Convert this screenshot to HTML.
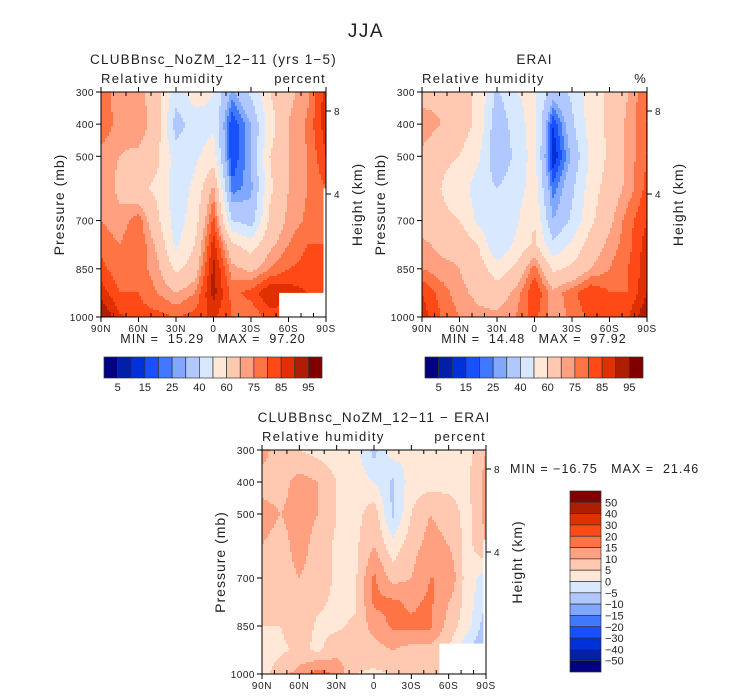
<!DOCTYPE html>
<html><head><meta charset="utf-8">
<style>
html,body{margin:0;padding:0;background:#fff;}
svg{display:block;font-family:"Liberation Sans",sans-serif;}
text{fill:#222;white-space:pre;}
</style></head>
<body>
<svg id="root" width="733" height="699" viewBox="0 0 733 699" xmlns="http://www.w3.org/2000/svg">
<text x="366" y="37" font-size="19" letter-spacing="1.5" text-anchor="middle">JJA</text>
<g id="p1"></g>
<g id="p2"></g>
<g id="p3"></g>
<g id="cb"></g>
</svg>
<script>
// ---- data ----
const lats = [90,75,60,45,30,15,0,-15,-30,-45,-60,-75,-90];
const pressures = [1000,925,850,775,700,600,500,400,300];
const rhLevels = [5,10,15,20,25,30,40,50,60,70,75,80,85,90,95];
const rhLabels = ["5","15","25","40","60","75","85","95"];
const diffLevels = [-50,-40,-30,-20,-15,-10,-5,0,5,10,15,20,30,40,50];
const diffLabels = ["50","40","30","20","15","10","5","0","\u22125","\u221210","\u221215","\u221220","\u221230","\u221240","\u221250"];
const palette = ["#000080","#0020a8","#0030d8","#1850ff","#4078ff","#80a8ff","#b0c8ff","#d8e8ff","#ffe8d8","#ffc8b0","#ffa080","#ff7444","#ff4a18","#e03000","#b01e00","#800000"];
const xTickLabels = ["90N","60N","30N","0","30S","60S","90S"];
const pTickLabels = [300,400,500,700,850,1000];
// rows: 1000,925,850,775,700,600,500,400,300
const modelRH = [
 [96,86,82,82,80,82,86,80,76,82,82,82,82],
 [88,80,80,75,70,75,92,78,82,90,88,85,85],
 [82,76,78,72,58,65,92,72,68,75,80,82,82],
 [78,75,80,68,48,60,88,62,55,68,75,80,80],
 [75,72,78,62,45,55,82,40,35,62,72,76,80],
 [75,68,62,58,45,52,72,22,28,58,70,75,80],
 [72,70,68,62,45,48,55,15,30,60,70,75,85],
 [80,72,75,65,35,45,48,15,30,55,70,76,88],
 [78,72,72,65,45,55,50,28,42,60,68,73,88]
];
const eraiRH = [
 [88,80,75,72,72,75,82,72,76,82,80,85,95],
 [85,78,72,68,65,72,85,72,78,85,80,80,90],
 [75,72,70,65,55,62,78,58,62,70,75,80,88],
 [72,68,68,60,40,52,62,42,52,65,72,78,88],
 [65,62,60,48,40,48,60,30,42,58,68,78,85],
 [65,60,55,45,40,45,55,22,38,55,65,72,82],
 [68,62,60,52,32,42,55,10,32,52,62,72,80],
 [75,70,65,58,32,45,55,15,38,55,62,72,80],
 [65,68,65,58,38,50,52,35,42,55,62,70,80]
];
const diffRH = [
 [3,8,12,18,14,5,4,5,8,10,5,3,0],
 [2,4,6,4,8,8,8,10,8,8,5,-5,-10],
 [5,5,8,4,4,6,12,16,16,16,8,2,-8],
 [8,8,10,6,4,4,16,16,14,16,10,3,-5],
 [8,8,10,8,4,4,16,8,10,15,15,2,-2],
 [10,8,12,8,4,4,10,2,8,12,10,3,10],
 [12,10,12,10,5,3,8,-6,5,10,8,3,12],
 [8,8,12,10,5,3,0,-6,3,3,3,4,12],
 [12,7,5,3,2,2,-7,3,0,2,3,3,10]
];
// ---- helpers ----
const NS="http://www.w3.org/2000/svg";
function mk(tag,attrs,parent){const e=document.createElementNS(NS,tag);for(const k in attrs)e.setAttribute(k,attrs[k]);parent.appendChild(e);return e;}
function levelIndex(v,levels){let i=0;while(i<levels.length&&v>=levels[i])i++;return i;}
function sample(grid,lat,p){
  let ci=0;while(ci<lats.length-2&&lat<lats[ci+1])ci++;
  const tx=(lats[ci]-lat)/(lats[ci]-lats[ci+1]);
  let ri=0;while(ri<pressures.length-2&&p<pressures[ri+1])ri++;
  const ty=(pressures[ri]-p)/(pressures[ri]-pressures[ri+1]);
  const a=grid[ri][ci],b=grid[ri][ci+1],c=grid[ri+1][ci],d=grid[ri+1][ci+1];
  return a*(1-tx)*(1-ty)+b*tx*(1-ty)+c*(1-tx)*ty+d*tx*ty;
}
function panel(g,x0,y0,w,h,grid,levels,opt){
  const xs=lat=>x0+(90-lat)/180*w;
  const ys=p=>y0+h-(1000-p)/700*h;
  const cs=2;
  const field=mk('g',{},g);
  
  
  for(let px=0;px<w;px+=cs){
    for(let py=0;py<h;py+=cs){
      const lat=90-(px+cs/2)/w*180;
      const p=1000-(h-(py+cs/2))/h*700;
      const v=sample(grid,lat,p);
      const r=mk('rect',{x:x0+px,y:y0+py,width:Math.min(cs,w-px)+0.3,height:Math.min(cs,h-py)+0.3,fill:palette[levelIndex(v,levels)]},field);
      
      
    }
  }
  (opt.masks||[]).forEach(m=>{
    const r=mk('rect',{x:xs(m[0]),y:ys(m[1]),width:xs(-90)-xs(m[0])+1,height:ys(1000)-ys(m[1])+1,fill:'#fff'},g);
    
    
  });
  const fr=mk('rect',{x:x0,y:y0,width:w,height:h,fill:'none',stroke:'#000','stroke-width':1},g);
  
  
  for(let lat=90;lat>=-90;lat-=10){
    const x=xs(lat);
    const major=lat%30===0;
    mk('line',{x1:x,y1:y0+h,x2:x,y2:y0+h+(major?5:-4),stroke:'#000'},g);
    mk('line',{x1:x,y1:y0,x2:x,y2:y0+(major?-5:4),stroke:'#000'},g);
  }
  xTickLabels.forEach((t,i)=>{
    const tx=mk('text',{x:xs(90-30*i),y:y0+h+15,'font-size':10,'letter-spacing':0.6,'text-anchor':'middle'},g);
    tx.textContent=t;
    
    
  });
  pTickLabels.forEach(p=>{
    const y=ys(p);
    mk('line',{x1:x0-5,y1:y,x2:x0,y2:y,stroke:'#000'},g);
    const tx=mk('text',{x:x0-7,y:y+4,'font-size':10,'letter-spacing':0.5,'text-anchor':'end'},g);
    tx.textContent=p;
    
    
  });
  [[8,111-92],[4,194-92]].forEach(k=>{
    const y=y0+k[1];
    mk('line',{x1:x0+w,y1:y,x2:x0+w+5,y2:y,stroke:'#000'},g);
    const tx=mk('text',{x:x0+w+8,y:y+4,'font-size':10},g);
    tx.textContent=k[0];
    
    
  });
  const yl=mk('text',{x:0,y:0,'font-size':14,'letter-spacing':1,'text-anchor':'middle',transform:`translate(${x0-37},${y0+h/2}) rotate(-90)`},g);
  yl.textContent='Pressure (mb)';
  
  
  const yr=mk('text',{x:0,y:0,'font-size':14,'letter-spacing':1,'text-anchor':'middle',transform:`translate(${x0+w+36},${y0+h/2}) rotate(-90)`},g);
  yr.textContent='Height (km)';
  
  
  const t1=mk('text',{x:x0+w/2,y:y0-28,'font-size':13.5,'letter-spacing':1.2,'text-anchor':'middle'},g);
  t1.textContent=opt.title;
  
  
  const t2=mk('text',{x:x0,y:y0-9,'font-size':13,'letter-spacing':1.4},g);
  t2.textContent='Relative humidity';
  
  
  const t3=mk('text',{x:x0+w,y:y0-9,'font-size':13,'letter-spacing':1.2,'text-anchor':'end'},g);
  t3.textContent=opt.units;
  
  
}
function hbar(g,x0,y0,w,h){
  const bw=w/palette.length;
  palette.forEach((c,i)=>{
    const r=mk('rect',{x:x0+i*bw,y:y0,width:bw,height:h,fill:c,stroke:'#333','stroke-width':0.7},g);
    
    
  });
  rhLabels.forEach((t,i)=>{
    const tx=mk('text',{x:x0+(2*i+1)*bw,y:y0+h+13,'font-size':11,'text-anchor':'middle'},g);
    tx.textContent=t;
    
    
  });
}
function vbar(g,x0,y0,w,h){
  const bh=h/palette.length;
  palette.slice().reverse().forEach((c,i)=>{
    const r=mk('rect',{x:x0,y:y0+i*bh,width:w,height:bh,fill:c,stroke:'#333','stroke-width':0.7},g);
    
    
  });
  diffLabels.forEach((t,i)=>{
    const tx=mk('text',{x:x0+w+4,y:y0+(i+1)*bh+4,'font-size':11},g);
    tx.textContent=t;
    
    
  });
}
const p1=document.getElementById('p1'),p2=document.getElementById('p2'),p3=document.getElementById('p3'),cb=document.getElementById('cb');
panel(p1,101,92,225,225,modelRH,rhLevels,{title:'CLUBBnsc_NoZM_12\u221211 (yrs 1\u22125)',units:'percent',masks:[[-52.5,925],[-88,600]]});
panel(p2,422,92,225,225,eraiRH,rhLevels,{title:'ERAI',units:'%',masks:[]});
panel(p3,262,450,224,224,diffRH,diffLevels,{title:'CLUBBnsc_NoZM_12\u221211 \u2212 ERAI',units:'percent',masks:[[-52.5,905],[-88,580]]});
function addText(g,x,y,s,t,name,anchor){const e=mk('text',{x:x,y:y,'font-size':s,'letter-spacing':1,'text-anchor':anchor||'middle'},g);e.textContent=t;}
addText(p1,213,343,12.5,'MIN =  15.29   MAX =  97.20','min-max-label');
addText(p2,534,343,12.5,'MIN =  14.48   MAX =  97.92','min-max-label');
addText(p3,510,473,12.5,'MIN = \u221216.75   MAX =  21.46','min-max-label','start');
hbar(cb,104,357,218,21);
hbar(cb,425,357,218,21);
vbar(cb,570,491,31,181);
</script>
</body></html>
